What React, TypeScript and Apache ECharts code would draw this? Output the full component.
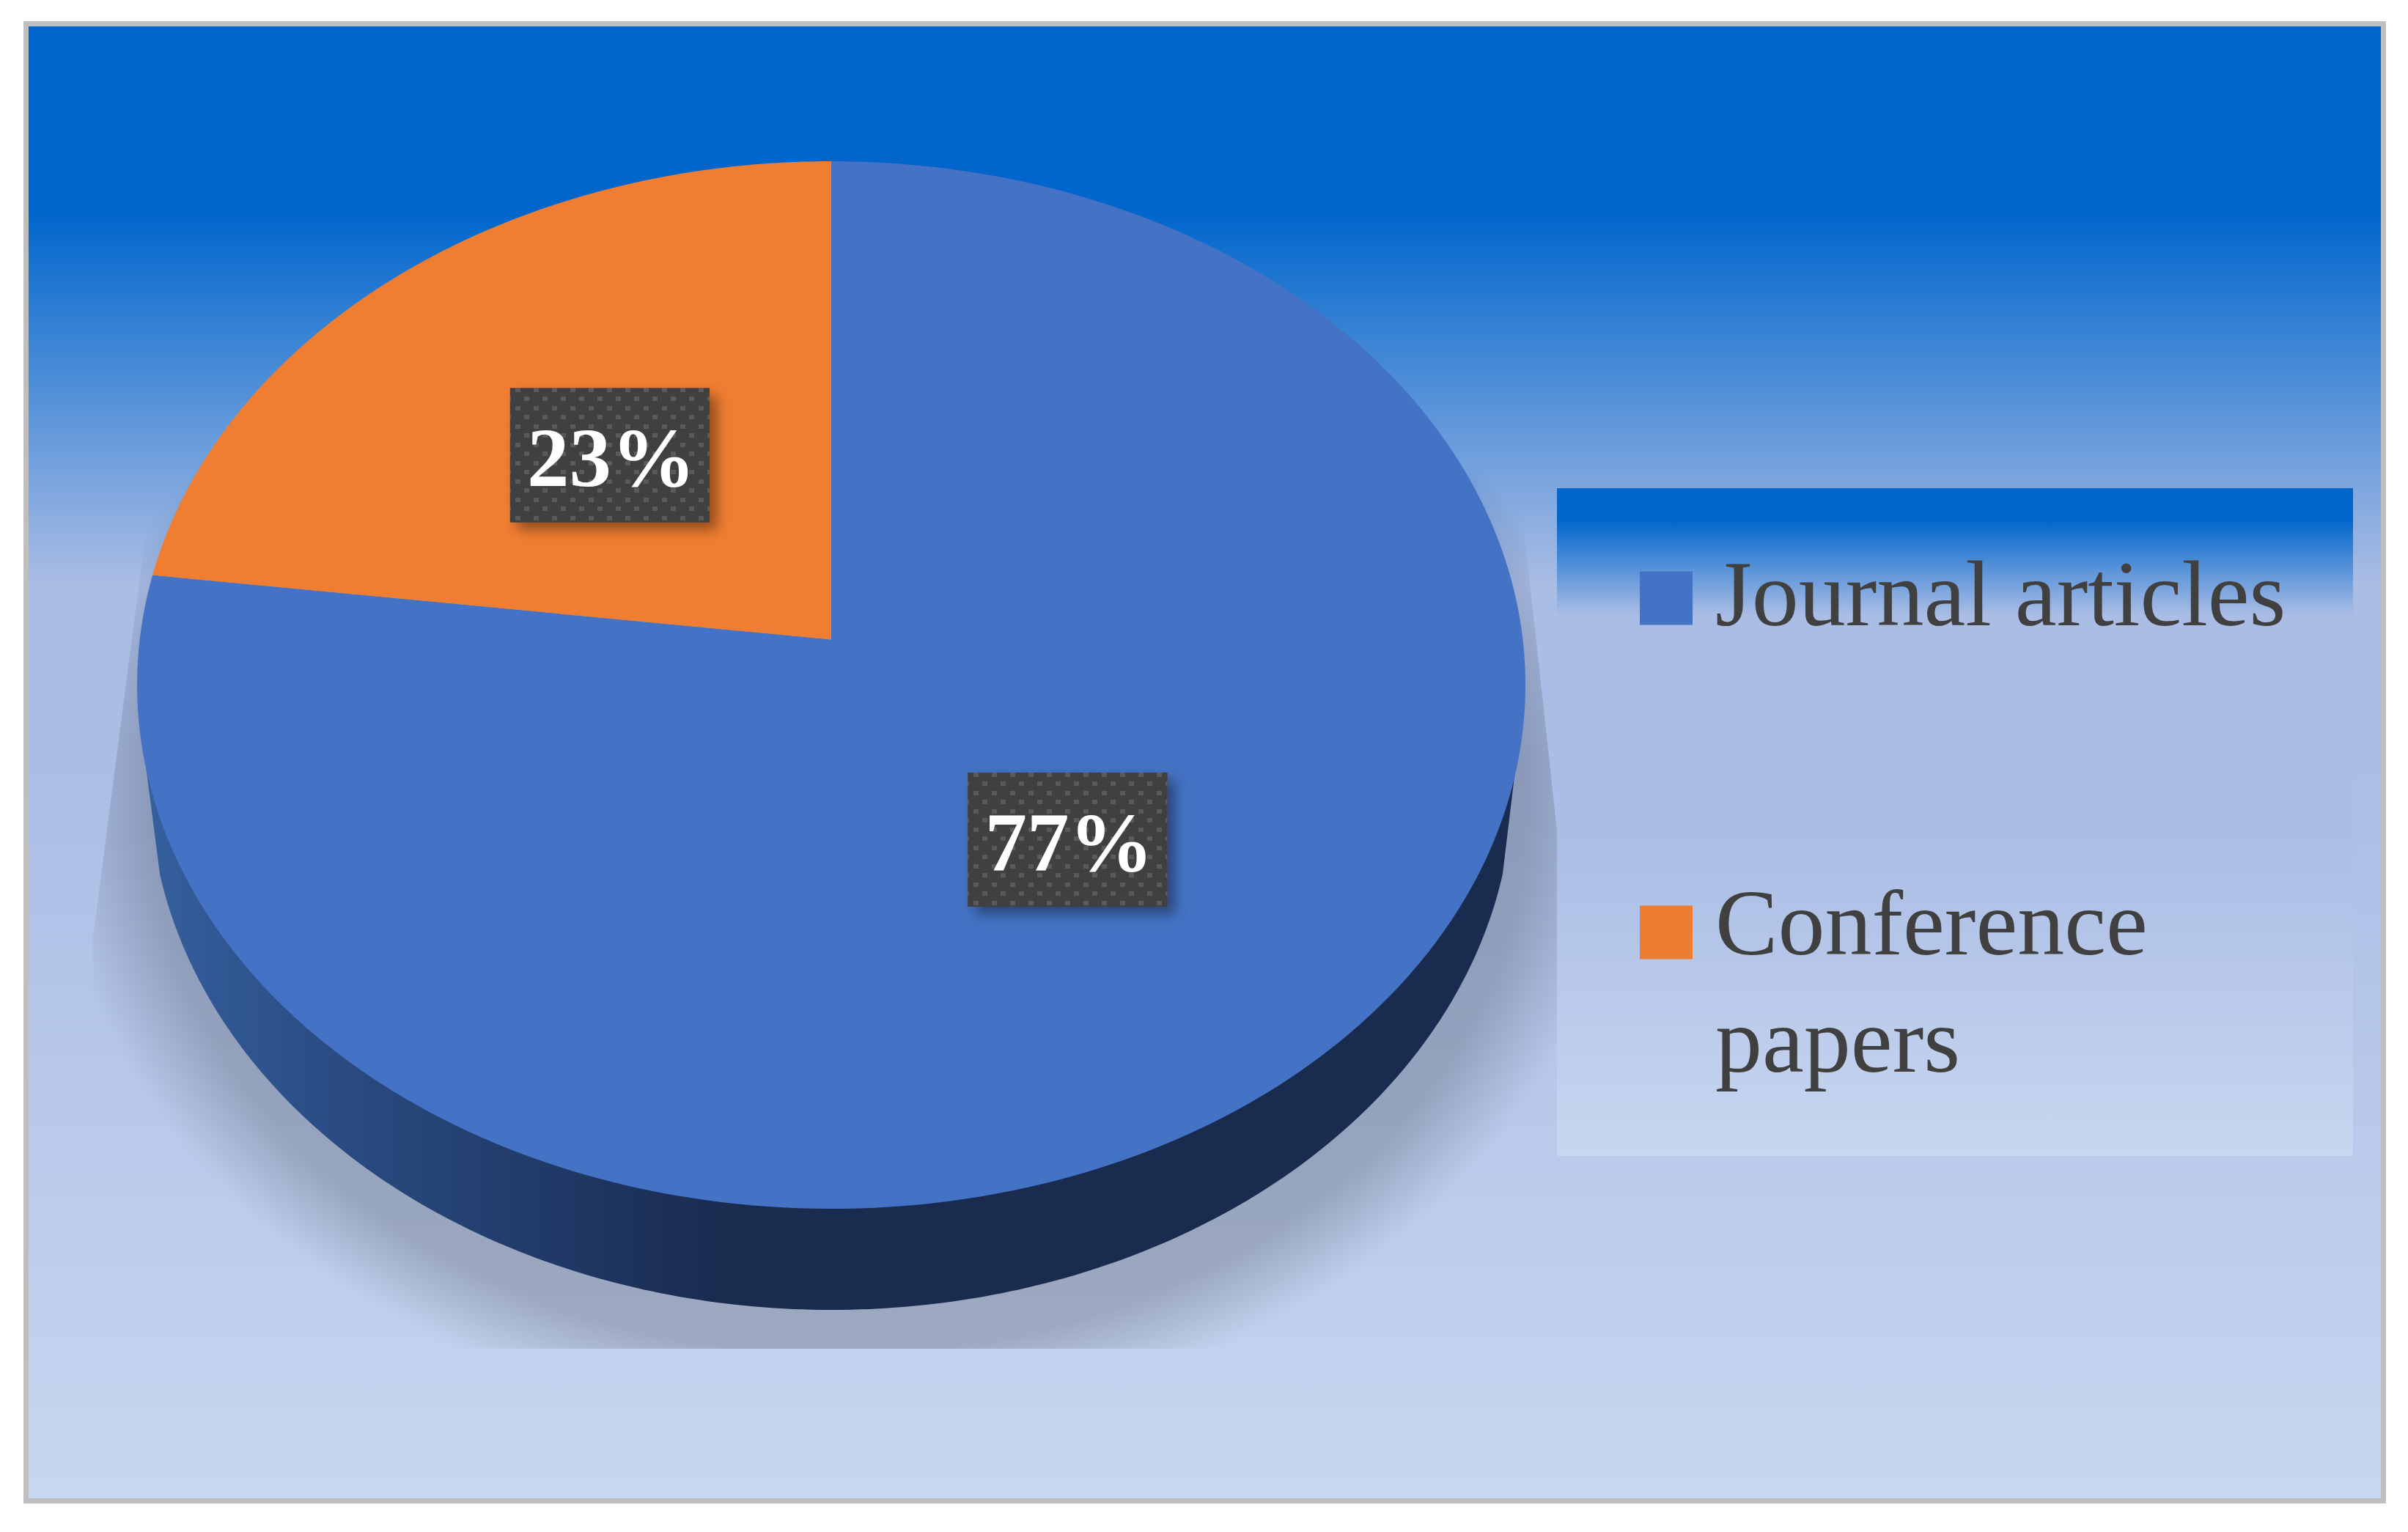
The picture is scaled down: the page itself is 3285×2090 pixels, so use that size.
import React, { useEffect, useRef } from "react";
import * as echarts from "echarts";

const categories = ["Journal articles", "Conference papers"];
const shareValues = [77, 23];
const sliceColors = ["#4472c4", "#f07e32"];
const legendColors = ["#4472c4", "#ed7d31"];
const SERIF = '"Liberation Serif", serif';

// perspective of the disc top: vertex (cx, vy), tilt c, scale a (vertical), d (horizontal)
const P = { cx: 1134, vy: 872.5, a: 633.4, c: 0.0868, d: 943.4 };
// lower rim of the disc, visible between these angles (fractions of a turn)
const RIM = { cx: 1134, cy: 1068, rx: 930, ry: 719, from: 100 / 360, to: 260 / 360 };
const LABEL_NUDGE = [-2, 6];
const total = shareValues.reduce((s, v) => s + v, 0);

function project(frac: number, r: number) {
  const th = frac * 2 * Math.PI;
  const u = Math.cos(th) * r;
  const x = Math.sin(th) * r;
  const w = 1 + P.c * u;
  return [P.cx + (P.d * x) / w, (P.vy - P.a * u) / w];
}

function sliceRange(index: number, value: number) {
  const start = shareValues.slice(0, index).reduce((s, v) => s + v, 0) / total;
  return [start, start + value / total];
}

function renderWall(index: number) {
  return (_params: any, api: any) => {
    const [start, end] = sliceRange(index, api.value(0) as number);
    const lo = Math.max(start, RIM.from);
    const hi = Math.min(end, RIM.to);
    const children: any[] = [];
    if (index === 0) {
      children.push({
        type: "ellipse",
        shape: { cx: 1143, cy: 1110, rx: 1065, ry: 835 },
        clipPath: {
          type: "polygon",
          shape: {
            points: [[210, 640], [127, 1278], [127, 1840], [2140, 1840], [2140, 1278], [2070, 640]],
          },
        },
        style: {
          fill: new echarts.graphic.RadialGradient(0.5, 0.5, 0.5, [
            { offset: 0, color: "rgba(0,0,0,0.19)" },
            { offset: 0.88, color: "rgba(0,0,0,0.19)" },
            { offset: 1, color: "rgba(0,0,0,0)" },
          ]),
        },
      });
    }
    if (lo < hi) {
      const N = 200;
      const wall: number[][] = [[2078, 960]];
      for (let i = 0; i <= N; i++) {
        const th = (lo + ((hi - lo) * i) / N) * 2 * Math.PI;
        wall.push([RIM.cx + RIM.rx * Math.sin(th), RIM.cy - RIM.ry * Math.cos(th)]);
      }
      wall.push([188, 960]);
      children.push({
        type: "polygon",
        shape: { points: wall },
        style: {
          fill: new echarts.graphic.LinearGradient(
            186, 0, 980, 0,
            [
              { offset: 0, color: "#35609f" },
              { offset: 0.35, color: "#2a4b82" },
              { offset: 0.72, color: "#203966" },
              { offset: 1, color: "#1a2b50" },
            ],
            true
          ),
        },
      });
    }
    return { type: "group", children };
  };
}

function renderTop(index: number) {
  return (_params: any, api: any) => {
    const [start, end] = sliceRange(index, api.value(0) as number);
    const N = 240;
    const top: number[][] = [project(0, 0)];
    for (let i = 0; i <= N; i++) {
      top.push(project(start + ((end - start) * i) / N, 1));
    }
    return {
      type: "polygon",
      shape: { points: top },
      style: { fill: sliceColors[index] },
    };
  };
}

function renderLabel(index: number, pattern: any) {
  return (_params: any, api: any) => {
    const value = api.value(0) as number;
    const [start, end] = sliceRange(index, value);
    const c = project((start + end) / 2, 0.5);
    c[1] += LABEL_NUDGE[index];
    const bw = 272;
    const bh = 183;
    return {
      type: "group",
      children: [
        {
          type: "rect",
          shape: { x: c[0] - bw / 2, y: c[1] - bh / 2, width: bw, height: bh },
          style: {
            fill: "#404040",
            shadowBlur: 18,
            shadowOffsetX: 10,
            shadowOffsetY: 10,
            shadowColor: "rgba(0,0,0,0.4)",
          },
        },
        {
          type: "rect",
          shape: { x: c[0] - bw / 2, y: c[1] - bh / 2, width: bw, height: bh },
          style: { fill: pattern },
        },
        {
          type: "text",
          style: {
            x: c[0] + 2,
            y: c[1] + 4,
            text: `${value}%`,
            fill: "#ffffff",
            font: `bold 115px ${SERIF}`,
            align: "center",
            verticalAlign: "middle",
          },
        },
      ],
    };
  };
}

function makePattern() {
  const cv = document.createElement("canvas");
  cv.width = 25;
  cv.height = 25;
  const g = cv.getContext("2d")!;
  g.fillStyle = "#404040";
  g.fillRect(0, 0, 25, 25);
  g.fillStyle = "#5a5a5a";
  g.fillRect(3, 4, 7, 6);
  g.fillRect(15, 16, 7, 6);
  return { image: cv, repeat: "repeat" };
}

// legend square sits below the text's centre line: the icon's box is 72x100,
// with the 73px square placed lower inside it
function legendIcon(drop: number) {
  const t = 50 + drop - 36.5;
  return `path://M0,0L72,0L72,0Z M0,100L72,100L72,100Z M0,${t}L72,${t}L72,${t + 73}L0,${t + 73}Z`;
}

export default function App() {
  const ref = useRef<HTMLDivElement>(null);
  useEffect(() => {
    const chart = echarts.init(ref.current!, undefined, { renderer: "svg" });
    const pattern = makePattern();
    const drops = [6, 13];
    chart.setOption({
      animation: false,
      backgroundColor: "#ffffff",
      tooltip: { show: false },
      legend: {
        left: 2237,
        top: 730,
        orient: "vertical",
        padding: 0,
        itemGap: 129,
        itemWidth: 72,
        itemHeight: 100,
        selectedMode: false,
        data: categories.map((name, i) => ({
          name,
          icon: legendIcon(drops[i]),
          itemStyle: { color: legendColors[i] },
        })),
        formatter: (name: string) =>
          name === "Conference papers" ? "\nConference\npapers" : name,
        textStyle: {
          color: "#404040",
          fontFamily: SERIF,
          fontSize: 128,
          lineHeight: 160,
          padding: [0, 0, 0, 26],
        },
      },
      graphic: {
        elements: [
          {
            type: "rect",
            z: 0,
            shape: { x: 35.5, y: 32.5, width: 3216, height: 2015 },
            style: {
              lineWidth: 7,
              stroke: "#bfbfbf",
              fill: new echarts.graphic.LinearGradient(0, 0, 0, 1, [
                { offset: 0, color: "#0066cc" },
                { offset: 0.127, color: "#0066cc" },
                { offset: 0.38, color: "#aabde5" },
                { offset: 0.5, color: "#aabde5" },
                { offset: 1, color: "#c8d6ef" },
              ]),
            },
          },
          {
            type: "rect",
            z: 3,
            shape: { x: 2124, y: 666, width: 1086, height: 911 },
            style: {
              fill: new echarts.graphic.LinearGradient(0, 0, 0, 1, [
                { offset: 0, color: "#0066cc" },
                { offset: 0.047, color: "#0066cc" },
                { offset: 0.19, color: "#aabde5" },
                { offset: 0.52, color: "#aabde5" },
                { offset: 1, color: "#c8d6ef" },
              ]),
            },
          },
        ],
      },
      series: [
        ...categories.map((name, i) => ({
          type: "custom",
          coordinateSystem: "none",
          silent: true,
          z: 1,
          data: [[shareValues[i]]],
          renderItem: renderWall(i),
        })),
        ...categories.map((name, i) => ({
          type: "custom",
          name,
          coordinateSystem: "none",
          silent: true,
          z: 2,
          itemStyle: { color: legendColors[i] },
          data: [[shareValues[i]]],
          renderItem: renderTop(i),
        })),
        ...categories.map((name, i) => ({
          type: "custom",
          coordinateSystem: "none",
          silent: true,
          z: 3,
          data: [[shareValues[i]]],
          renderItem: renderLabel(i, pattern),
        })),
      ],
    });
    return () => chart.dispose();
  }, []);
  return (
    <div
      ref={ref}
      style={{ position: "absolute", left: 0, top: 0, width: 3285, height: 2090 }}
    />
  );
}
